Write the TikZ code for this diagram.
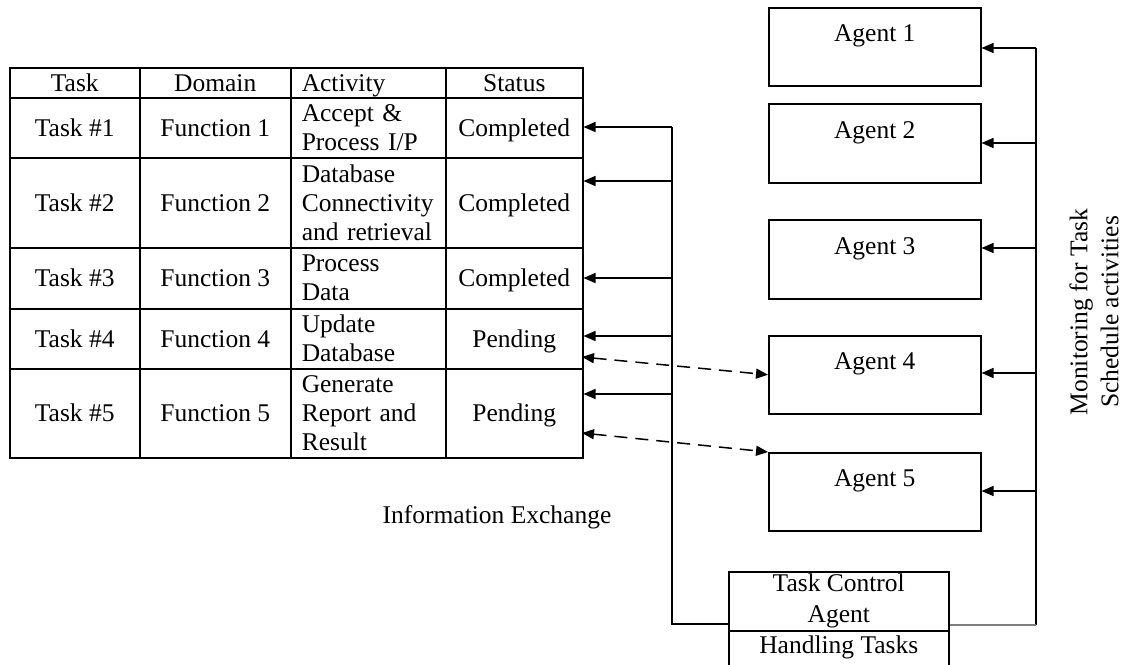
\documentclass[tikz,border=0pt]{standalone}
\usepackage{fontspec}
\setmainfont{Liberation Serif}
\usetikzlibrary{arrows.meta}

\begin{document}
\begin{tikzpicture}[x=1pt, y=-1pt,
  every node/.style={font=\fontsize{25.5}{29}\selectfont},
  line/.style={line width=1.5pt, draw=black},
  cell/.style={draw, line width=1.5pt, inner sep=0pt, anchor=north west, align=center},
  oneline/.style={text height=19pt, text depth=2pt},
  actcell/.style={cell, align=left, text width=133pt, inner xsep=11pt},
  agentbox/.style={draw, line width=1.5pt, anchor=north west, minimum width=212pt,
    inner xsep=0pt, inner ysep=0pt, text height=34pt, text depth=44pt},
  arr/.style={line, -{Triangle[length=12pt, width=10pt]}},
  dasharr/.style={line, dash pattern=on 13pt off 8pt,
    {Triangle[length=12pt, width=10pt]}-{Triangle[length=12pt, width=10pt]}}
]
\useasboundingbox (0,0) rectangle (1123,664);

% ---- task table ----
% header
\node[cell, oneline, minimum width=130pt, minimum height=30pt] (hT) at (9,67)   {Task};
\node[cell, oneline, minimum width=151pt, minimum height=30pt] (hD) at (139,67) {Domain};
\node[actcell, oneline, minimum height=30pt]                   (hA) at (290,67) {Activity};
\node[cell, oneline, minimum width=137pt, minimum height=30pt] (hS) at (445,67) {Status};
% row 1
\node[cell, oneline, minimum width=130pt, minimum height=60pt] (t1) at (9,97)   {Task \#1};
\node[cell, oneline, minimum width=151pt, minimum height=60pt] (f1) at (139,97) {Function 1};
\node[actcell, minimum height=60pt]                            (c1) at (290,97) {Accept \&\\Process I/P};
\node[cell, oneline, minimum width=137pt, minimum height=60pt] (s1) at (445,97) {Completed};
% row 2
\node[cell, oneline, minimum width=130pt, minimum height=90pt] (t2) at (9,157)   {Task \#2};
\node[cell, oneline, minimum width=151pt, minimum height=90pt] (f2) at (139,157) {Function 2};
\node[actcell, minimum height=90pt]                            (c2) at (290,157) {Database\\Connectivity\\and retrieval};
\node[cell, oneline, minimum width=137pt, minimum height=90pt] (s2) at (445,157) {Completed};
% row 3
\node[cell, oneline, minimum width=130pt, minimum height=61pt] (t3) at (9,247)   {Task \#3};
\node[cell, oneline, minimum width=151pt, minimum height=61pt] (f3) at (139,247) {Function 3};
\node[actcell, minimum height=61pt]                            (c3) at (290,247) {Process\\Data};
\node[cell, oneline, minimum width=137pt, minimum height=61pt] (s3) at (445,247) {Completed};
% row 4
\node[cell, oneline, minimum width=130pt, minimum height=60pt] (t4) at (9,308)   {Task \#4};
\node[cell, oneline, minimum width=151pt, minimum height=60pt] (f4) at (139,308) {Function 4};
\node[actcell, minimum height=60pt]                            (c4) at (290,308) {Update\\Database};
\node[cell, oneline, minimum width=137pt, minimum height=60pt] (s4) at (445,308) {Pending};
% row 5
\node[cell, oneline, minimum width=130pt, minimum height=89pt] (t5) at (9,368)   {Task \#5};
\node[cell, oneline, minimum width=151pt, minimum height=89pt] (f5) at (139,368) {Function 5};
\node[actcell, minimum height=89pt]                            (c5) at (290,368) {Generate\\Report and\\Result};
\node[cell, oneline, minimum width=137pt, minimum height=89pt] (s5) at (445,368) {Pending};

% ---- agents ----
\node[agentbox, minimum height=78pt] (a1) at (768,7)   {Agent 1};
\node[agentbox, minimum height=79pt] (a2) at (768,103) {Agent 2};
\node[agentbox, minimum height=79pt] (a3) at (768,219) {Agent 3};
\node[agentbox, minimum height=77pt] (a4) at (768,335) {Agent 4};
\node[agentbox, minimum height=76pt] (a5) at (768,452) {Agent 5};

% ---- task control agent ----
\node[draw, line width=1.5pt, anchor=north west, minimum width=220pt, minimum height=59pt,
  inner sep=0pt, align=center, font=\fontsize{25.5}{31}\selectfont] (tca) at (728,571)
  {Task Control\\Agent};
\node[draw, line width=1.5pt, anchor=north west, minimum width=220pt,
  inner xsep=0pt, inner ysep=0pt, text height=23pt, text depth=47pt] (hnd) at (728,630)
  {Handling Tasks};

% ---- labels ----
\node (info) at (497,517) {Information Exchange};
\node[rotate=90, align=center, inner sep=0pt, font=\fontsize{25.5}{31}\selectfont] (mon) at (1094,312)
  {Monitoring for Task\\Schedule activities};

% ---- left bus: task control agent to the table ----
\coordinate (b1) at (672,127);
\coordinate (b2) at (672,181);
\coordinate (b3) at (672,278);
\coordinate (b4) at (672,336);
\coordinate (b5) at (672,394);
\coordinate (lb) at (672,624);
\draw[line] (b1) -- (lb) -- (lb -| tca.west);
\draw[arr] (b1) -- (b1 -| s1.east);
\draw[arr] (b2) -- (b2 -| s2.east);
\draw[arr] (b3) -- (b3 -| s3.east);
\draw[arr] (b4) -- (b4 -| s4.east);
\draw[arr] (b5) -- (b5 -| s5.east);

% ---- information exchange between pending tasks and agents ----
\coordinate (d4) at (582,357);
\coordinate (d5) at (582,433);
\draw[dasharr] (d4) -- (a4.west);
\draw[dasharr] (d5) -- (a5.north west);

% ---- right bus: monitoring of the agents ----
\coordinate (r1) at (1036,48);
\coordinate (r2) at (1036,143);
\coordinate (r3) at (1036,248);
\coordinate (r4) at (1036,373);
\coordinate (r5) at (1036,491);
\coordinate (rb) at (1036,625);
\draw[line] (r1) -- (rb);
\draw[line, draw=black!50] (rb) -- (rb -| tca.east);
\draw[arr] (r1) -- (r1 -| a1.east);
\draw[arr] (r2) -- (r2 -| a2.east);
\draw[arr] (r3) -- (r3 -| a3.east);
\draw[arr] (r4) -- (r4 -| a4.east);
\draw[arr] (r5) -- (r5 -| a5.east);
\end{tikzpicture}
\end{document}
